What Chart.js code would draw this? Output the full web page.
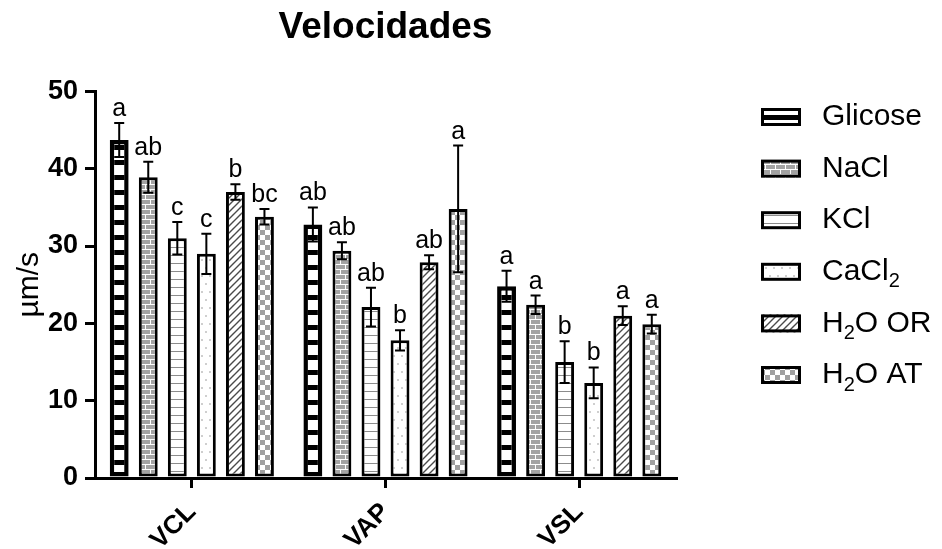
<!DOCTYPE html>
<html>
<head>
<meta charset="utf-8">
<title>Velocidades</title>
<script src="https://cdn.jsdelivr.net/npm/chart.js@4"></script>
<style>
  html, body { margin: 0; padding: 0; background: #fff; }
  #caixa { width: 942px; height: 549px; }
</style>
</head>
<body>
<div id="caixa"><canvas id="grafico"></canvas></div>
<script>
// dados
const categorias = ['VCL', 'VAP', 'VSL'];
const series = ['Glicose', 'NaCl', 'KCl', 'CaCl₂', 'H₂O OR', 'H₂O AT'];

const glicose = [43.7, 32.8, 24.8];
const nacl    = [38.9, 29.4, 22.4];
const kcl     = [31.0, 22.1, 15.0];
const cacl2   = [29.0, 17.8, 12.3];
const h2oOR   = [37.0, 27.9, 21.0];
const h2oAT   = [33.8, 34.8, 19.9];

const erroGlicose = [2.2, 2.2, 2.0];
const erroNacl    = [2.0, 1.1, 1.2];
const erroKcl     = [2.1, 2.5, 2.7];
const erroCacl2   = [2.6, 1.3, 2.0];
const erroOR      = [1.0, 0.9, 1.2];
const erroAT      = [1.0, 8.2, 1.2];

const letrasGlicose = ['a', 'ab', 'a'];
const letrasNacl    = ['ab', 'ab', 'a'];
const letrasKcl     = ['c', 'ab', 'b'];
const letrasCacl2   = ['c', 'b', 'b'];
const letrasOR      = ['b', 'ab', 'a'];
const letrasAT      = ['bc', 'a', 'a'];

const valores = [glicose, nacl, kcl, cacl2, h2oOR, h2oAT];
const erros = [erroGlicose, erroNacl, erroKcl, erroCacl2, erroOR, erroAT];
const letras = [letrasGlicose, letrasNacl, letrasKcl, letrasCacl2, letrasOR, letrasAT];

const fonte = '"Liberation Sans", Arial, Helvetica, sans-serif';

// texturas das barras
function padrao(w, h, desenha) {
  const c = document.createElement('canvas');
  c.width = w; c.height = h;
  const g = c.getContext('2d');
  desenha(g);
  return g.createPattern(c, 'repeat');
}

const texturas = [
  // Glicose: faixas pretas e brancas
  padrao(4, 15, g => {
    g.fillStyle = '#000'; g.fillRect(0, 0, 4, 15);
    g.fillStyle = '#fff'; g.fillRect(0, 0, 4, 10);
  }),
  // NaCl: tijolos cinzas
  padrao(10, 10, g => {
    g.fillStyle = '#a3a3a3'; g.fillRect(0, 0, 10, 10);
    g.fillStyle = '#fff';
    g.fillRect(0, 4, 10, 1); g.fillRect(0, 9, 10, 1);
    g.fillRect(0, 0, 1, 4); g.fillRect(5, 5, 1, 4);
  }),
  // KCl: linhas horizontais
  padrao(4, 8, g => {
    g.fillStyle = '#fff'; g.fillRect(0, 0, 4, 8);
    g.fillStyle = '#8c8c8c'; g.fillRect(0, 7, 4, 1);
  }),
  // CaCl2: pontos claros
  padrao(8, 16, g => {
    g.fillStyle = '#fff'; g.fillRect(0, 0, 8, 16);
    g.fillStyle = '#cfcfcf'; g.fillRect(1, 3, 2, 2); g.fillRect(5, 11, 2, 2);
  }),
  // H2O OR: hachurado diagonal
  padrao(7, 7, g => {
    g.fillStyle = '#fff'; g.fillRect(0, 0, 7, 7);
    g.strokeStyle = '#4a4a4a'; g.lineWidth = 1.4;
    g.beginPath();
    g.moveTo(-1, 8); g.lineTo(8, -1);
    g.moveTo(-1, 1); g.lineTo(1, -1);
    g.moveTo(6, 8); g.lineTo(8, 6);
    g.stroke();
  }),
  // H2O AT: xadrez
  padrao(10, 10, g => {
    g.fillStyle = '#fff'; g.fillRect(0, 0, 10, 10);
    g.fillStyle = '#a0a0a0'; g.fillRect(0, 0, 5, 5); g.fillRect(5, 5, 5, 5);
  })
];

// barras de erro + letras
const pluginErros = {
  id: 'erros',
  afterDatasetsDraw(chart) {
    const ctx = chart.ctx;
    const y = chart.scales.y;
    chart.data.datasets.forEach((ds, i) => {
      chart.getDatasetMeta(i).data.forEach((bar, j) => {
        const v = ds.data[j], e = erros[i][j];
        const yCima = y.getPixelForValue(v + e);
        const yBaixo = y.getPixelForValue(v - e);
        ctx.save();
        ctx.strokeStyle = '#000';
        ctx.lineWidth = 2;
        ctx.beginPath();
        ctx.moveTo(bar.x, yCima); ctx.lineTo(bar.x, yBaixo);
        ctx.moveTo(bar.x - 5, yCima); ctx.lineTo(bar.x + 5, yCima);
        ctx.moveTo(bar.x - 5, yBaixo); ctx.lineTo(bar.x + 5, yBaixo);
        ctx.stroke();
        ctx.fillStyle = '#000';
        ctx.font = '25px ' + fonte;
        ctx.textAlign = 'center';
        ctx.textBaseline = 'alphabetic';
        ctx.fillText(letras[i][j], bar.x, yCima - 7);
        ctx.restore();
      });
    });
  }
};

// legenda à direita, com subscrito
const pluginLegenda = {
  id: 'legenda',
  afterDraw(chart) {
    const ctx = chart.ctx;
    chart.data.datasets.forEach((ds, i) => {
      const cy = 117 + i * 51.6;
      ctx.save();
      ctx.fillStyle = ds.backgroundColor;
      ctx.fillRect(761, cy - 9, 40, 18);
      ctx.strokeStyle = '#000';
      ctx.lineWidth = 3;
      ctx.strokeRect(762.5, cy - 7.5, 37, 15);
      ctx.fillStyle = '#000';
      ctx.textBaseline = 'middle';
      ctx.textAlign = 'left';
      let x = 822;
      const partes = ds.label.split('₂');
      partes.forEach((p, k) => {
        ctx.font = '30px ' + fonte;
        ctx.fillText(p, x, cy);
        x += ctx.measureText(p).width;
        if (k < partes.length - 1) {
          ctx.font = '20px ' + fonte;
          ctx.fillText('2', x, cy + 10);
          x += ctx.measureText('2').width;
        }
      });
      ctx.restore();
    });
  }
};

Chart.defaults.color = '#000';
Chart.defaults.font.family = fonte;

new Chart(document.getElementById('grafico'), {
  type: 'bar',
  data: {
    labels: categorias,
    datasets: series.map((nome, i) => ({
      label: nome,
      data: valores[i],
      backgroundColor: texturas[i],
      borderColor: '#000',
      borderWidth: i === 0 ? 4.5 : 3,
      borderSkipped: false,
      categoryPercentage: 0.9,
      barPercentage: 0.65
    }))
  },
  options: {
    responsive: true,
    maintainAspectRatio: false,
    animation: false,
    devicePixelRatio: 1,
    layout: { padding: { left: 0, right: 266, top: 0, bottom: 0 } },
    plugins: {
      legend: { display: false },
      tooltip: { enabled: false },
      title: {
        display: true,
        text: 'Velocidades',
        fullSize: false,
        color: '#000',
        font: { size: 37, weight: 'bold' },
        padding: { top: 6, bottom: 41 }
      }
    },
    scales: {
      x: {
        grid: { drawOnChartArea: false, offset: false, tickLength: 10, lineWidth: 3, color: '#000' },
        border: { display: true, width: 3, color: '#000' },
        ticks: { font: { size: 26, weight: 'bold' }, minRotation: 45, maxRotation: 45, padding: 9 },
        afterFit(s) { s.height = 71; }
      },
      y: {
        min: 0,
        max: 50,
        grid: { drawOnChartArea: false, tickLength: 10, lineWidth: 3, color: '#000' },
        border: { display: true, width: 3, color: '#000' },
        ticks: { stepSize: 10, font: { size: 27, weight: 'bold' }, padding: 7 },
        title: { display: true, text: 'µm/s', font: { size: 30 }, padding: { top: 12 } },
        afterFit(s) { s.width = 95; }
      }
    }
  },
  plugins: [pluginErros, pluginLegenda]
});
</script>
</body>
</html>
